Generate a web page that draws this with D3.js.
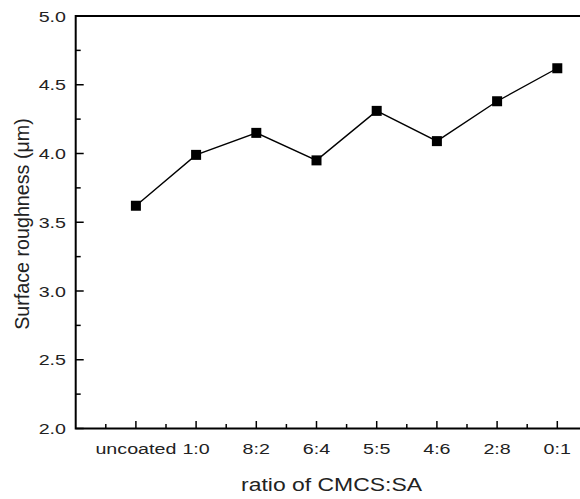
<!DOCTYPE html>
<html><head><meta charset="utf-8">
<script src="https://cdn.jsdelivr.net/npm/d3@7"></script>
<style>body{margin:0;background:#fff}svg{display:block}text{font-family:"Liberation Sans",Arial,sans-serif}</style>
</head><body>
<svg id="c" width="580" height="499"></svg>
<script>
const categories = ["uncoated","1:0","8:2","6:4","5:5","4:6","2:8","0:1"];
const roughness = [3.62, 3.99, 4.15, 3.95, 4.31, 4.09, 4.38, 4.62];
const yTicks = [2.0, 2.5, 3.0, 3.5, 4.0, 4.5, 5.0];
const yMinorTicks = [2.25, 2.75, 3.25, 3.75, 4.25, 4.75];

(function(){
const svg = d3.select("#c");
const mLeft = 75.7, mTop = 16, mBottom = 428.5;
const step = 60.2;
const sx = 1.27;
const x = d3.scaleLinear().domain([-1, 8]).range([mLeft, mLeft + 9*step]);
const y = d3.scaleLinear().domain([2, 5]).range([mBottom, mTop]);

// ticks (inward)
const idx = d3.range(categories.length);
const xMinor = idx.map(i=>i-0.5).concat([7.5]);
const tk = svg.append("g").attr("stroke","#000").attr("stroke-width",1.5);
tk.selectAll("line.ym").data(yTicks).enter().append("line")
  .attr("x1",mLeft).attr("x2",mLeft+8).attr("y1",d=>y(d)).attr("y2",d=>y(d));
tk.selectAll("line.yn").data(yMinorTicks).enter().append("line")
  .attr("x1",mLeft).attr("x2",mLeft+5).attr("y1",d=>y(d)).attr("y2",d=>y(d));
tk.selectAll("line.xm").data(idx).enter().append("line")
  .attr("x1",d=>x(d)).attr("x2",d=>x(d)).attr("y1",mBottom).attr("y2",mBottom-7.5);
tk.selectAll("line.xn").data(xMinor).enter().append("line")
  .attr("x1",d=>x(d)).attr("x2",d=>x(d)).attr("y1",mBottom).attr("y2",mBottom-4.5);

// line + markers
const line = d3.line().x((d,i)=>x(i)).y(d=>y(d));
svg.append("path").datum(roughness).attr("d", line)
  .attr("fill","none").attr("stroke","#000").attr("stroke-width",1.4);
svg.selectAll("rect.m").data(roughness).enter().append("rect")
  .attr("x",(d,i)=>x(i)-5).attr("y",d=>y(d)-5).attr("width",10).attr("height",10).attr("fill","#000");

// y labels
svg.selectAll("text.yl").data(yTicks).enter().append("text")
  .attr("transform",d=>`translate(66,${y(d)}) scale(${sx},1)`).attr("dy","0.36em").attr("text-anchor","end")
  .attr("font-size",15.5).attr("fill","#222").text(d=>d.toFixed(1));

// x labels
svg.selectAll("text.xl").data(categories).enter().append("text")
  .attr("transform",(d,i)=>`translate(${x(i)},454) scale(${sx},1)`).attr("text-anchor","middle")
  .attr("font-size",15.5).attr("fill","#222").text(d=>d);

// frame lines
svg.append("path").attr("d",`M${x(8)},${mTop}H${mLeft}V${mBottom}H${x(8)}`)
  .attr("fill","none").attr("stroke","#000").attr("stroke-width",2);

// titles
svg.append("text").attr("transform","translate(331.5,491) scale(1.24,1)").attr("text-anchor","middle")
  .attr("font-size",18.5).attr("fill","#222").text("ratio of CMCS:SA");
svg.append("text").attr("transform","translate(29,224) rotate(-90)").attr("text-anchor","middle")
  .attr("font-size",19.7).attr("fill","#222").text("Surface roughness (μm)");
})();
</script>
</body></html>
